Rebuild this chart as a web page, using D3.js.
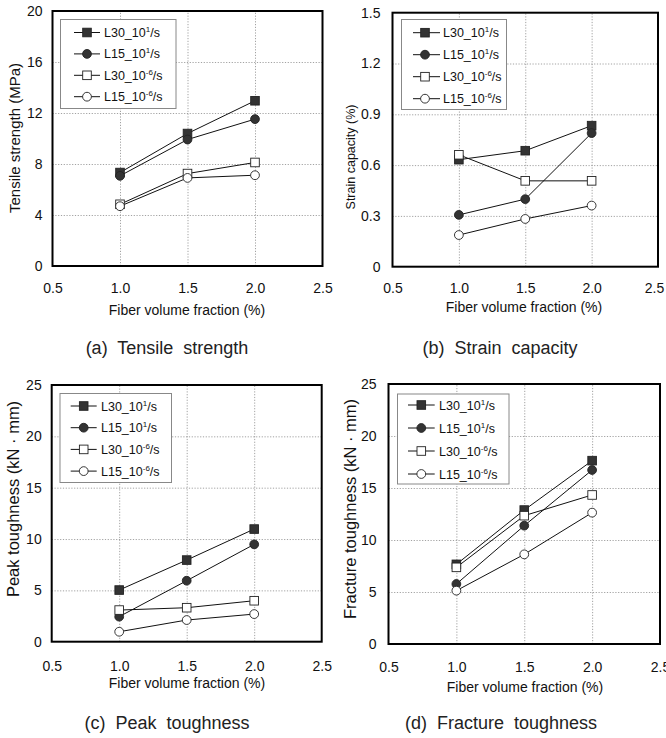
<!DOCTYPE html>
<html>
<head>
<meta charset="utf-8">
<script src="https://cdn.jsdelivr.net/npm/d3@7"></script>
<style>
  body { margin: 0; background: #fff; }
  svg { display: block; font-family: "Liberation Sans", Arial, sans-serif; }
  .grid line { stroke: #8a8a8a; stroke-width: 0.8; stroke-dasharray: 1.2 1.6; }
  .axis path, .axis line { display: none; }
</style>
</head>
<body>
<svg width="666" height="738"></svg>
<script>
// fiber volume fraction (%) on x
var fiberFraction = [1.0, 1.5, 2.0];
var xTicks = [0.5, 1.0, 1.5, 2.0, 2.5];

// series: fiber length + strain rate
var seriesBase = ["L30_10", "L15_10", "L30_10", "L15_10"];
var seriesExp = ["1", "1", "-6", "-6"];
var seriesMarker = ["square", "circle", "square", "circle"];
var seriesFilled = [true, true, false, false];

var tensileStrength = [
  [7.33, 10.39, 12.96],
  [7.07, 9.92, 11.52],
  [4.84, 7.25, 8.12],
  [4.69, 6.91, 7.12]
];
var strainCapacity = [
  [0.632, 0.685, 0.833],
  [0.306, 0.399, 0.789],
  [0.661, 0.507, 0.507],
  [0.187, 0.282, 0.361]
];
var peakToughness = [
  [5.03, 7.95, 10.97],
  [2.44, 5.94, 9.48],
  [3.08, 3.31, 3.99],
  [0.97, 2.11, 2.69]
];
var fractureToughness = [
  [7.66, 12.88, 17.63],
  [5.77, 11.38, 16.73],
  [7.37, 12.34, 14.33],
  [5.13, 8.62, 12.63]
];

var tensileTicks = [0, 4, 8, 12, 16, 20];
var strainTicks = [0, 0.3, 0.6, 0.9, 1.2, 1.5];
var toughTicks = [0, 5, 10, 15, 20, 25];

var svg = d3.select("svg");

var panels = [
  { data: tensileStrength, yTicks: tensileTicks, yMax: 20, fmt: d3.format("d"),
    ylabel: "Tensile strength (MPa)", caption: "(a)  Tensile  strength",
    box: [52.5, 322.5, 11, 266], ylab: [15, 138, 15], xlab: [187, 310], cap: [167, 348],
    xPad: 17, yPad: 10, lastShift: 0,
    leg: { x: 60.5, y: 19.5, w: 115.5, h: 89, row0: 32.5, gap: 21.4, l1: 74, l2: 100, m: 87, t: 104 } },
  { data: strainCapacity, yTicks: strainTicks, yMax: 1.5,
    fmt: function(d) { return d === 0 ? "0" : d3.format(".1f")(d); },
    ylabel: "Strain capacity (%)", caption: "(b)  Strain  capacity",
    box: [392.5, 658, 12.7, 266.7], ylab: [351, 157, 12.5], xlab: [524, 307], cap: [500, 348],
    xPad: 16, yPad: 12, lastShift: -4,
    leg: { x: 401.5, y: 19.5, w: 105, h: 90, row0: 32.7, gap: 22, l1: 413, l2: 440, m: 425, t: 443 } },
  { data: peakToughness, yTicks: toughTicks, yMax: 25, fmt: d3.format("d"),
    ylabel: "Peak toughness (kN · mm)", caption: "(c)  Peak  toughness",
    box: [51.7, 321.7, 385, 641.7], ylab: [13, 499, 16.5], xlab: [187, 683], cap: [167, 723],
    xPad: 19, yPad: 10, lastShift: 0,
    leg: { x: 60, y: 393.5, w: 111.5, h: 89, row0: 406, gap: 21.7, l1: 70.7, l2: 96.7, m: 83.7, t: 101 } },
  { data: fractureToughness, yTicks: toughTicks, yMax: 25, fmt: d3.format("d"),
    ylabel: "Fracture toughness (kN · mm)", caption: "(d)  Fracture  toughness",
    box: [388.5, 660, 384, 644], ylab: [350, 509, 16.5], xlab: [525, 686.7], cap: [501, 723],
    xPad: 18, yPad: 12, lastShift: 0,
    leg: { x: 397.5, y: 394, w: 111.5, h: 90, row0: 405, gap: 23, l1: 408, l2: 434.7, m: 421.3, t: 439 } }
];

function marker(g, type, filled, cx, cy) {
  var fill = filled ? "#333" : "#fff";
  if (type === "square") {
    g.append("rect").attr("x", cx - 4.3).attr("y", cy - 4.3)
      .attr("width", 8.6).attr("height", 8.6)
      .attr("fill", fill).attr("stroke", "#222").attr("stroke-width", 0.9);
  } else {
    g.append("circle").attr("cx", cx).attr("cy", cy).attr("r", 4.4)
      .attr("fill", fill).attr("stroke", "#222").attr("stroke-width", 0.9);
  }
}

function seriesLabel(text, i) {
  text.append("tspan").text(seriesBase[i]);
  text.append("tspan").attr("dy", -5).attr("font-size", 8).text(seriesExp[i]);
  text.append("tspan").attr("dy", 5).text("/s");
}

panels.forEach(function(p) {
  var x0 = p.box[0], x1 = p.box[1], y0 = p.box[2], y1 = p.box[3];
  var x = d3.scaleLinear().domain([0.5, 2.5]).range([x0, x1]);
  var y = d3.scaleLinear().domain([0, p.yMax]).range([y1, y0]);
  var g = svg.append("g");

  // dotted grid
  g.append("g").attr("class", "grid").attr("transform", "translate(0," + y1 + ")")
    .call(d3.axisBottom(x).tickValues(fiberFraction).tickSize(-(y1 - y0)).tickFormat(""))
    .call(function(s) { s.select(".domain").remove(); });
  g.append("g").attr("class", "grid").attr("transform", "translate(" + x0 + ",0)")
    .call(d3.axisLeft(y).tickValues(p.yTicks.slice(1, -1)).tickSize(-(x1 - x0)).tickFormat(""))
    .call(function(s) { s.select(".domain").remove(); });

  // tick labels
  g.append("g").attr("class", "axis").attr("transform", "translate(0," + y1 + ")")
    .call(d3.axisBottom(x).tickValues(xTicks).tickSize(0).tickPadding(p.xPad).tickFormat(d3.format(".1f")))
    .call(function(s) {
      s.selectAll("text").attr("font-size", 14).attr("fill", "#111").attr("font-family", null);
      s.selectAll(".tick").filter(function(d) { return d === 2.5; }).select("text").attr("dx", p.lastShift);
    });
  g.append("g").attr("class", "axis").attr("transform", "translate(" + x0 + ",0)")
    .call(d3.axisLeft(y).tickValues(p.yTicks).tickSize(0).tickPadding(p.yPad).tickFormat(p.fmt))
    .call(function(s) { s.selectAll("text").attr("font-size", 14).attr("fill", "#111").attr("font-family", null); });

  // frame
  g.append("rect").attr("x", x0).attr("y", y0).attr("width", x1 - x0).attr("height", y1 - y0)
    .attr("fill", "none").attr("stroke", "#000").attr("stroke-width", 2);

  // lines and markers
  var line = d3.line().x(function(d, i) { return x(fiberFraction[i]); }).y(function(d) { return y(d); });
  p.data.forEach(function(vals) {
    g.append("path").attr("d", line(vals)).attr("fill", "none").attr("stroke", "#111").attr("stroke-width", 1);
  });
  p.data.forEach(function(vals, si) {
    vals.forEach(function(v, i) { marker(g, seriesMarker[si], seriesFilled[si], x(fiberFraction[i]), y(v)); });
  });

  // legend
  var L = p.leg;
  g.append("rect").attr("x", L.x).attr("y", L.y).attr("width", L.w).attr("height", L.h)
    .attr("fill", "#fff").attr("stroke", "#888").attr("stroke-width", 1);
  seriesBase.forEach(function(b, i) {
    var ry = L.row0 + i * L.gap;
    g.append("line").attr("x1", L.l1).attr("x2", L.l2).attr("y1", ry).attr("y2", ry)
      .attr("stroke", "#111").attr("stroke-width", 1);
    marker(g, seriesMarker[i], seriesFilled[i], L.m, ry);
    var t = g.append("text").attr("x", L.t).attr("y", ry).attr("dy", "0.36em")
      .attr("font-size", 12.5).attr("fill", "#111");
    seriesLabel(t, i);
  });

  // titles
  g.append("text").attr("transform", "translate(" + p.ylab[0] + "," + p.ylab[1] + ") rotate(-90)")
    .attr("text-anchor", "middle").attr("dy", "0.35em").attr("font-size", p.ylab[2]).attr("fill", "#111")
    .text(p.ylabel);
  g.append("text").attr("x", p.xlab[0]).attr("y", p.xlab[1]).attr("dy", "0.35em")
    .attr("text-anchor", "middle").attr("font-size", 14).attr("fill", "#111")
    .text("Fiber volume fraction (%)");
  g.append("text").attr("x", p.cap[0]).attr("y", p.cap[1]).attr("dy", "0.35em")
    .attr("text-anchor", "middle").attr("font-size", 18).attr("fill", "#222")
    .style("white-space", "pre").text(p.caption);
});
</script>
</body>
</html>
